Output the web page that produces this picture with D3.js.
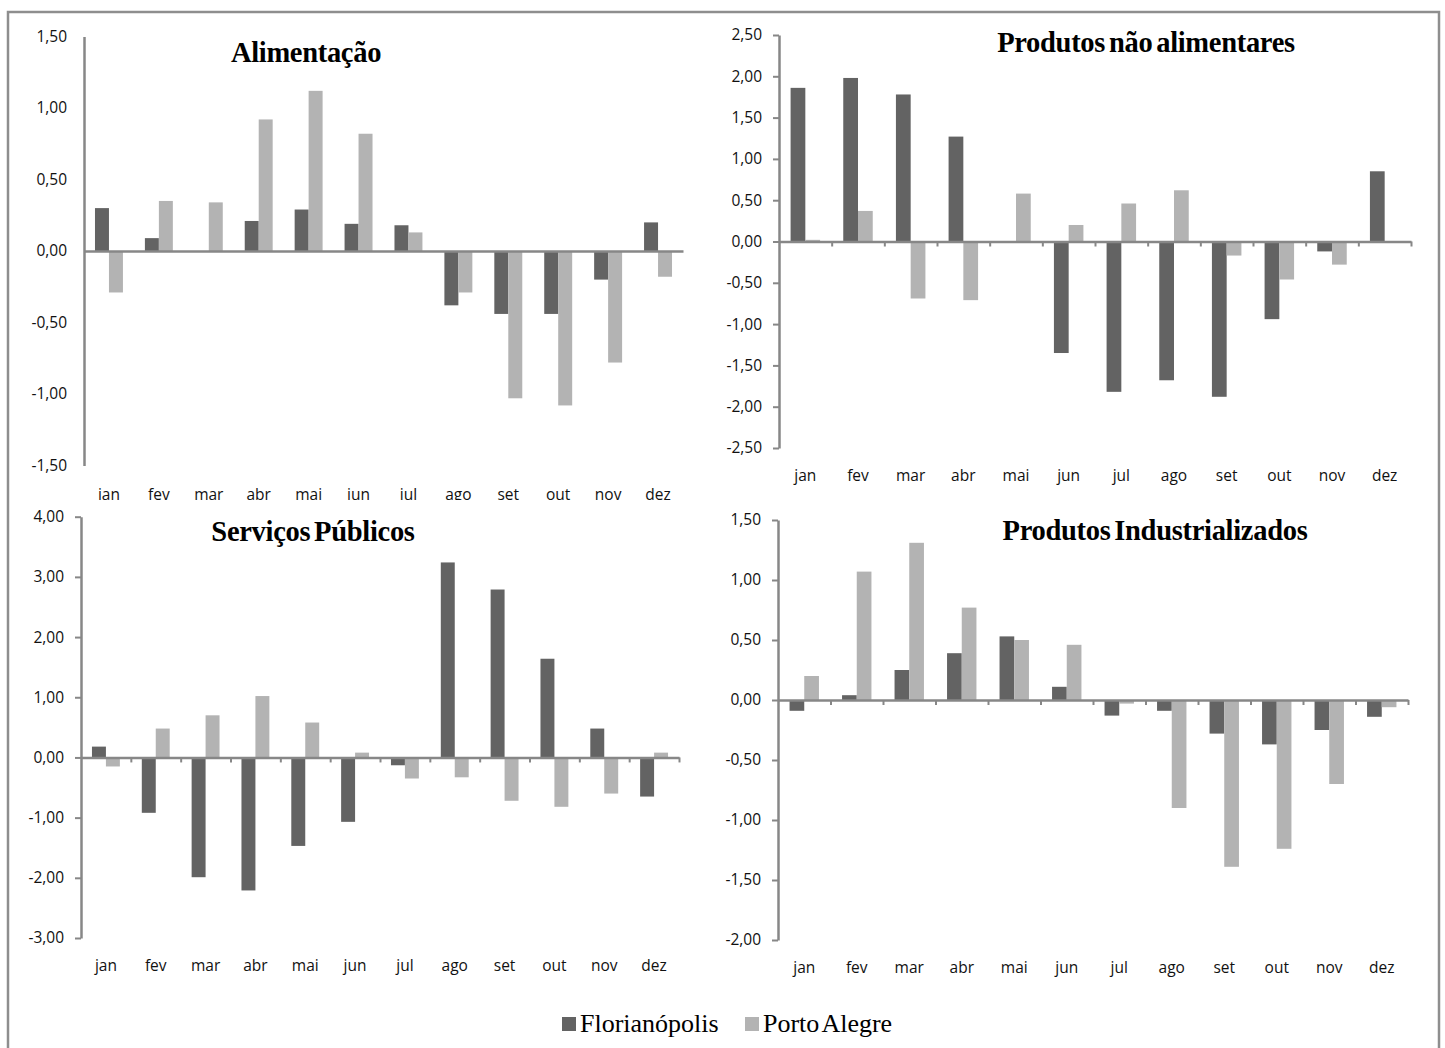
<!DOCTYPE html>
<html lang="pt-BR">
<head>
<meta charset="utf-8">
<title>Variação mensal de preços – Florianópolis e Porto Alegre</title>
<script src="https://cdn.jsdelivr.net/npm/d3@7/dist/d3.min.js"></script>
<style>
  html, body { margin: 0; padding: 0; background: #fff; }
  svg { display: block; }
  .tick text { font-family: "Open Sans", "Liberation Sans", sans-serif; }
</style>
</head>
<body>
<svg id="chart" width="1445" height="1048"></svg>
<script>
// Meses do ano (eixo das categorias)
const months = ["jan", "fev", "mar", "abr", "mai", "jun", "jul", "ago", "set", "out", "nov", "dez"];

// Séries por cidade
const seriesNames = ["Florianópolis", "Porto Alegre"];

// Alimentação
const alimFloripa = [0.30, 0.09, 0.00, 0.21, 0.29, 0.19, 0.18, -0.38, -0.44, -0.44, -0.20, 0.20];
const alimPoa     = [-0.29, 0.35, 0.34, 0.92, 1.12, 0.82, 0.13, -0.29, -1.03, -1.08, -0.78, -0.18];
const alimTicks   = [-1.5, -1.0, -0.5, 0.0, 0.5, 1.0, 1.5];

// Produtos não alimentares
const naoAlimFloripa = [1.86, 1.98, 1.78, 1.27, 0.00, -1.35, -1.82, -1.68, -1.88, -0.94, -0.12, 0.85];
const naoAlimPoa     = [0.02, 0.37, -0.69, -0.71, 0.58, 0.20, 0.46, 0.62, -0.17, -0.46, -0.28, 0.00];
const naoAlimTicks   = [-2.5, -2.0, -1.5, -1.0, -0.5, 0.0, 0.5, 1.0, 1.5, 2.0, 2.5];

// Serviços Públicos
const servFloripa = [0.18, -0.92, -1.99, -2.21, -1.47, -1.07, -0.13, 3.24, 2.79, 1.64, 0.48, -0.65];
const servPoa     = [-0.15, 0.48, 0.70, 1.02, 0.58, 0.08, -0.35, -0.33, -0.72, -0.82, -0.60, 0.08];
const servTicks   = [-3, -2, -1, 0, 1, 2, 3, 4];

// Produtos Industrializados
const indFloripa = [-0.09, 0.04, 0.25, 0.39, 0.53, 0.11, -0.13, -0.09, -0.28, -0.37, -0.25, -0.14];
const indPoa     = [0.20, 1.07, 1.31, 0.77, 0.50, 0.46, -0.03, -0.90, -1.39, -1.24, -0.70, -0.06];
const indTicks   = [-2.0, -1.5, -1.0, -0.5, 0.0, 0.5, 1.0, 1.5];

const colors = { flo: "#636363", poa: "#b3b3b3", axis: "#878787", frame: "#8e8e8e" };

// Números no formato brasileiro: vírgula decimal, hífen como sinal negativo
const ptBR = d3.formatLocale({ decimal: ",", thousands: ".", grouping: [3], currency: ["R$", ""], minus: "-" });
const fmt = ptBR.format(".2f");

const svg = d3.select("#chart");

// Moldura externa
svg.append("rect")
  .attr("x", 8).attr("y", 12)
  .attr("width", 1431).attr("height", 1060)
  .attr("fill", "none")
  .attr("stroke", colors.frame)
  .attr("stroke-width", 2.5);

svg.append("defs").append("clipPath").attr("id", "clip-top-left")
  .append("rect").attr("x", 0).attr("y", 0).attr("width", 720).attr("height", 500);

const panels = [
  { title: "Alimentação", flo: alimFloripa, poa: alimPoa, ticks: alimTicks,
    left: 84, right: 683, top: 36.5, bottom: 465.5, tickLen: 0, labelY: 500,
    titleX: 306, titleY: 62, clip: "clip-top-left" },
  { title: "Produtos não alimentares", flo: naoAlimFloripa, poa: naoAlimPoa, ticks: naoAlimTicks,
    left: 779, right: 1411, top: 35, bottom: 448, tickLen: 6, labelY: 481,
    titleX: 1146, titleY: 52 },
  { title: "Serviços Públicos", flo: servFloripa, poa: servPoa, ticks: servTicks,
    left: 81, right: 679, top: 516.7, bottom: 938, tickLen: 6, labelY: 971,
    titleX: 313, titleY: 541 },
  { title: "Produtos Industrializados", flo: indFloripa, poa: indPoa, ticks: indTicks,
    left: 778, right: 1408, top: 520, bottom: 940, tickLen: 6, labelY: 973,
    titleX: 1155, titleY: 540 }
];

panels.forEach(p => {
  const g = svg.append("g");
  if (p.clip) g.attr("clip-path", `url(#${p.clip})`);

  const y = d3.scaleLinear()
    .domain([d3.min(p.ticks), d3.max(p.ticks)])
    .range([p.bottom, p.top]);

  const x = d3.scaleBand().domain(months).range([p.left, p.right]).paddingInner(0).paddingOuter(0);
  const bw = x.bandwidth() * 0.28;

  // Barras: Florianópolis à esquerda, Porto Alegre à direita do centro do mês
  const rows = months.map((m, i) => ({ m, flo: p.flo[i], poa: p.poa[i] }));
  const cx = d => x(d.m) + x.bandwidth() / 2;

  g.selectAll(".bar-flo").data(rows).join("rect")
    .attr("x", d => cx(d) - bw)
    .attr("width", bw)
    .attr("y", d => y(Math.max(0, d.flo)))
    .attr("height", d => Math.abs(y(d.flo) - y(0)))
    .attr("fill", colors.flo);

  g.selectAll(".bar-poa").data(rows).join("rect")
    .attr("x", d => cx(d))
    .attr("width", bw)
    .attr("y", d => y(Math.max(0, d.poa)))
    .attr("height", d => Math.abs(y(d.poa) - y(0)))
    .attr("fill", colors.poa);

  // Eixo vertical
  const yAxis = g.append("g")
    .attr("transform", `translate(${p.left},0)`)
    .call(d3.axisLeft(y).tickValues(p.ticks).tickFormat(fmt)
      .tickSize(p.tickLen).tickSizeOuter(0).tickPadding(17 - p.tickLen));
  yAxis.select(".domain").attr("stroke", colors.axis).attr("stroke-width", 2.5);
  yAxis.selectAll(".tick line").attr("stroke", colors.axis).attr("stroke-width", 2);
  yAxis.selectAll(".tick text").attr("font-size", 15.5).attr("fill", "#111");

  // Eixo horizontal na linha do zero, com marcas entre os meses
  const xIdx = d3.scaleLinear().domain([0, months.length]).range([p.left, p.right]);
  const xAxis = g.append("g")
    .attr("transform", `translate(0,${y(0)})`)
    .call(d3.axisBottom(xIdx).tickValues(d3.range(1, months.length + 1))
      .tickFormat("").tickSize(p.tickLen === 0 ? 0 : 5).tickSizeOuter(0));
  xAxis.select(".domain").attr("stroke", colors.axis).attr("stroke-width", 2.5);
  xAxis.selectAll(".tick line").attr("stroke", colors.axis).attr("stroke-width", 2);

  // Rótulos dos meses
  g.selectAll(".month").data(months).join("text")
    .attr("x", m => x(m) + x.bandwidth() / 2)
    .attr("y", p.labelY)
    .attr("text-anchor", "middle")
    .attr("font-family", "'Open Sans', 'Liberation Sans', sans-serif")
    .attr("font-size", 15.5)
    .attr("fill", "#111")
    .text(m => m);

  // Título do painel
  g.append("text")
    .attr("x", p.titleX)
    .attr("y", p.titleY)
    .attr("text-anchor", "middle")
    .attr("font-family", "'Liberation Serif', 'Times New Roman', serif")
    .attr("font-weight", "bold")
    .attr("font-size", 28.5)
    .attr("word-spacing", -3)
    .attr("letter-spacing", -0.3)
    .attr("fill", "#000")
    .text(p.title);
});

// Legenda
const legend = svg.append("g").attr("transform", "translate(562,1017)");
const legendItems = [
  { name: seriesNames[0], color: colors.flo, x: 0 },
  { name: seriesNames[1], color: colors.poa, x: 183 }
];
legendItems.forEach(it => {
  legend.append("rect")
    .attr("x", it.x).attr("y", 0)
    .attr("width", 14).attr("height", 14)
    .attr("fill", it.color);
  legend.append("text")
    .attr("x", it.x + 18).attr("y", 15)
    .attr("font-family", "'Liberation Serif', 'Times New Roman', serif")
    .attr("font-size", 26)
    .attr("word-spacing", -3)
    .attr("fill", "#000")
    .text(it.name);
});
</script>
</body>
</html>
